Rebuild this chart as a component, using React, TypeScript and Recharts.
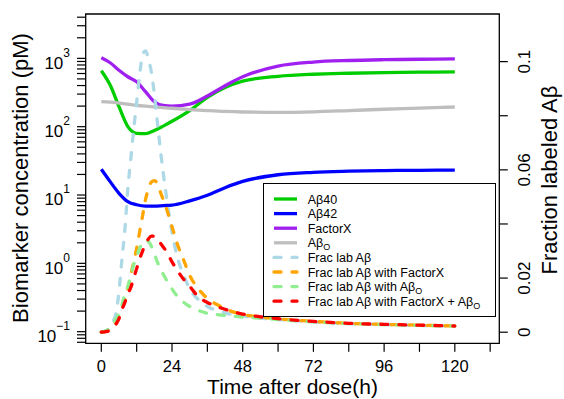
import { ComposedChart, Line, XAxis, YAxis, ReferenceArea, Legend } from 'recharts';

const FONT = '"Liberation Sans", Arial, Helvetica, sans-serif';

// solid curves, left (log) axis, pM
const hours = [0, 3, 6, 9, 12, 15, 18, 21, 24, 30, 36, 42, 48, 60, 72, 84, 96, 108, 120];
const abeta40 = [659, 406, 196, 100, 80, 79, 88, 102, 120, 172, 269, 376, 465, 546, 585, 605, 620, 628, 632];
const abeta42 = [23.8, 15.7, 10.6, 8.0, 7.2, 6.9, 6.9, 7.0, 7.1, 8.2, 9.9, 12.8, 15.8, 19.8, 21.5, 22.3, 22.8, 23.0, 23.2];
const factorX = [1020, 862, 670, 538, 455, 325, 232, 205, 200, 214, 281, 398, 538, 771, 883, 930, 955, 970, 985];
const abetaO = [232, 228, 222, 214, 206, 200, 195, 190, 186, 178, 172, 167, 164, 162, 165, 172, 180, 187, 194];

// dashed curves, right axis, fraction labeled
const fracHours = [0, 2, 4, 5, 6, 7, 8, 9, 10, 11, 12, 13, 14, 15, 16, 17, 18, 19, 20, 21, 22, 24, 26, 28, 30, 33, 36, 40, 44, 48, 54, 60, 72, 84, 96, 108, 120];
const fracLab = [0, 0.0008, 0.004, 0.007, 0.015, 0.027, 0.038, 0.053, 0.064, 0.075, 0.085, 0.095, 0.1025, 0.104, 0.101, 0.096, 0.088, 0.078, 0.068, 0.059, 0.051, 0.037, 0.027, 0.021, 0.016, 0.012, 0.0095, 0.0078, 0.0066, 0.006, 0.0052, 0.0047, 0.0038, 0.0032, 0.0028, 0.0025, 0.0023];
const fracLabX = [0, 0.0005, 0.002, 0.004, 0.006, 0.009, 0.012, 0.016, 0.021, 0.026, 0.031, 0.037, 0.043, 0.049, 0.053, 0.0555, 0.056, 0.055, 0.052, 0.049, 0.046, 0.039, 0.032, 0.0265, 0.021, 0.016, 0.0125, 0.0098, 0.0078, 0.0066, 0.0056, 0.0049, 0.004, 0.0033, 0.0029, 0.0026, 0.0023];
const fracLabO = [0, 0.0008, 0.003, 0.005, 0.007, 0.01, 0.014, 0.017, 0.021, 0.025, 0.028, 0.031, 0.033, 0.034, 0.0335, 0.0318, 0.029, 0.026, 0.0235, 0.0215, 0.0195, 0.016, 0.013, 0.011, 0.0095, 0.008, 0.007, 0.0064, 0.006, 0.0056, 0.0052, 0.0047, 0.0038, 0.0032, 0.0028, 0.0025, 0.0023];
const fracLabXO = [0, 0.0003, 0.0015, 0.003, 0.005, 0.0083, 0.011, 0.014, 0.0165, 0.02, 0.0235, 0.027, 0.03, 0.0325, 0.0345, 0.0355, 0.0355, 0.0345, 0.033, 0.0315, 0.03, 0.026, 0.0225, 0.0195, 0.017, 0.013, 0.011, 0.0092, 0.0078, 0.0067, 0.0057, 0.005, 0.004, 0.0033, 0.0029, 0.0026, 0.0023];

const seriesNames = ['Aβ40', 'Aβ42', 'FactorX', 'Aβ|O', 'Frac lab Aβ', 'Frac lab Aβ with FactorX', 'Frac lab Aβ with Aβ|O', 'Frac lab Aβ with FactorX + Aβ|O'];
const seriesColors = ['#00CD00', '#0000FF', '#A020F0', '#BEBEBE', '#ADD8E6', '#FFA500', '#90EE90', '#FF0000'];

const xTicks = [0, 12, 24, 36, 48, 60, 72, 84, 96, 108, 120, 132];
const xLabels = [0, 24, 48, 72, 96, 120];
const leftMajor = [0.1, 1, 10, 100, 1000];
const leftTicks = [0.07, 0.08, 0.09, ...[0.1, 1, 10, 100].flatMap((d) => [1, 2, 3, 4, 5, 6, 7, 8, 9].map((m) => (m === 1 ? d : d * m))), 1000, 2000, 3000, 4000];
const rightTicks = [0, 0.02, 0.04, 0.06, 0.08, 0.1];
const rightLabels = [0, 0.02, 0.06, 0.1];

const X_DOMAIN = [-5.3, 135.1];
const LEFT_DOMAIN = [0.0676, 4457];
const RIGHT_DOMAIN = [-0.0041, 0.1176];
const PLOT = { left: 85.7, right: 499.3, top: 14, bottom: 343.3 };

const toData = (xs: number[], ys: number[]) => xs.map((t, i) => ({ t, v: ys[i] }));
const solid = [abeta40, abeta42, factorX, abetaO].map((ys) => toData(hours, ys));
const dashed = [fracLab, fracLabX, fracLabO, fracLabXO].map((ys) => toData(fracHours, ys));

const Name = ({ name }: { name: string }) => {
  const [main, sub] = name.split('|');
  return (
    <>
      {main}
      {sub && <tspan dy={3} fontSize={9}>{sub}</tspan>}
    </>
  );
};

const LeftTick = (props: any) => {
  const { y, payload } = props;
  const v = payload.value;
  const e = Math.round(Math.log10(v));
  return (
    <g>
      <line x1={PLOT.left - 8.7} x2={PLOT.left} y1={y} y2={y} stroke="#000" strokeWidth={1.2} />
      {leftMajor.includes(v) && (
        <text x={70} y={y + 10.3} textAnchor="end" fontSize={17} fontFamily={FONT} fill="#000">
          10<tspan dy={-12} fontSize={12}>{e < 0 ? '\u2212' + -e : String(e)}</tspan>
        </text>
      )}
    </g>
  );
};

const RightTick = (props: any) => {
  const { y, payload } = props;
  return (
    <g>
      <line x1={PLOT.right} x2={PLOT.right + 8.5} y1={y} y2={y} stroke="#000" strokeWidth={1.2} />
      {rightLabels.includes(payload.value) && (
        <text x={530} y={y} transform={`rotate(-90 530 ${y})`} textAnchor="middle" fontSize={17} fontFamily={FONT} fill="#000">
          {String(payload.value)}
        </text>
      )}
    </g>
  );
};

const XTick = (props: any) => {
  const { x, payload } = props;
  return (
    <g>
      <line x1={x} x2={x} y1={PLOT.bottom} y2={PLOT.bottom + 8.5} stroke="#000" strokeWidth={1.2} />
      {xLabels.includes(payload.value) && (
        <text x={x} y={372} textAnchor="middle" fontSize={16.5} fontFamily={FONT} fill="#000">
          {payload.value}
        </text>
      )}
    </g>
  );
};

const XTitle = () => (
  <text x={(PLOT.left + PLOT.right) / 2} y={394} textAnchor="middle" fontSize={21} fontFamily={FONT} fill="#000">
    Time after dose(h)
  </text>
);

const LeftTitle = () => (
  <text x={28} y={178} transform="rotate(-90 28 178)" textAnchor="middle" fontSize={22} fontFamily={FONT} fill="#000">
    Biomarker concentration (pM)
  </text>
);

const RightTitle = () => (
  <text x={557} y={180} transform="rotate(-90 557 180)" textAnchor="middle" fontSize={22} fontFamily={FONT} fill="#000">
    Fraction labeled Aβ
  </text>
);

const LegendBox = () => (
  <svg width={234} height={135} style={{ display: 'block' }}>
    <rect x={0.5} y={0.5} width={232} height={133} fill="#fff" stroke="#000" strokeWidth={1} />
    {seriesNames.map((name, i) => {
      const y = 16 + i * 14.6;
      return (
        <g key={name}>
          <line
            x1={11}
            x2={34}
            y1={y}
            y2={y}
            stroke={seriesColors[i]}
            strokeWidth={3.3}
            strokeDasharray={i >= 4 ? '7 11' : undefined}
            strokeLinecap={i >= 4 ? 'round' : 'butt'}
          />
          <text x={44.7} y={y + 4.5} fontSize={12.5} fontFamily={FONT} fill="#000">
            <Name name={name} />
          </text>
        </g>
      );
    })}
  </svg>
);

export default function App() {
  return (
    <div style={{ position: 'absolute', left: 0, top: 0 }}>
      <ComposedChart width={564} height={399} margin={{ top: PLOT.top, right: 0, bottom: 0, left: 0 }}>
        <XAxis
          type="number"
          dataKey="t"
          domain={X_DOMAIN}
          ticks={xTicks}
          interval={0}
          allowDataOverflow
          tick={XTick}
          tickLine={false}
          axisLine={false}
          height={399 - PLOT.bottom}
          label={<XTitle />}
        />
        <YAxis
          yAxisId="left"
          scale="log"
          domain={LEFT_DOMAIN}
          ticks={leftTicks}
          interval={0}
          allowDataOverflow
          tick={LeftTick}
          tickLine={false}
          axisLine={false}
          width={PLOT.left}
          label={<LeftTitle />}
        />
        <YAxis
          yAxisId="right"
          orientation="right"
          domain={RIGHT_DOMAIN}
          ticks={rightTicks}
          interval={0}
          allowDataOverflow
          tick={RightTick}
          tickLine={false}
          axisLine={false}
          width={564 - PLOT.right}
          label={<RightTitle />}
        />
        <ReferenceArea
          yAxisId="left"
          x1={X_DOMAIN[0]}
          x2={X_DOMAIN[1]}
          y1={LEFT_DOMAIN[0]}
          y2={LEFT_DOMAIN[1]}
          fill="none"
          fillOpacity={0}
          stroke="#000"
          strokeWidth={1.3}
          ifOverflow="visible"
        />
        {solid.map((d, i) => (
          <Line
            key={seriesNames[i]}
            yAxisId="left"
            data={d}
            dataKey="v"
            name={seriesNames[i]}
            type="monotone"
            stroke={seriesColors[i]}
            strokeWidth={3.3}
            dot={false}
            activeDot={false}
            isAnimationActive={false}
          />
        ))}
        {dashed.map((d, i) => (
          <Line
            key={seriesNames[i + 4]}
            yAxisId="right"
            data={d}
            dataKey="v"
            name={seriesNames[i + 4]}
            type="monotone"
            stroke={seriesColors[i + 4]}
            strokeWidth={3.3}
            strokeDasharray="7 11"
            strokeLinecap="round"
            dot={false}
            activeDot={false}
            isAnimationActive={false}
          />
        ))}
        <Legend
          layout="vertical"
          align="center"
          verticalAlign="middle"
          content={LegendBox}
          wrapperStyle={{ position: 'absolute', left: 263, top: 183, width: 234, height: 135 }}
        />
      </ComposedChart>
    </div>
  );
}
